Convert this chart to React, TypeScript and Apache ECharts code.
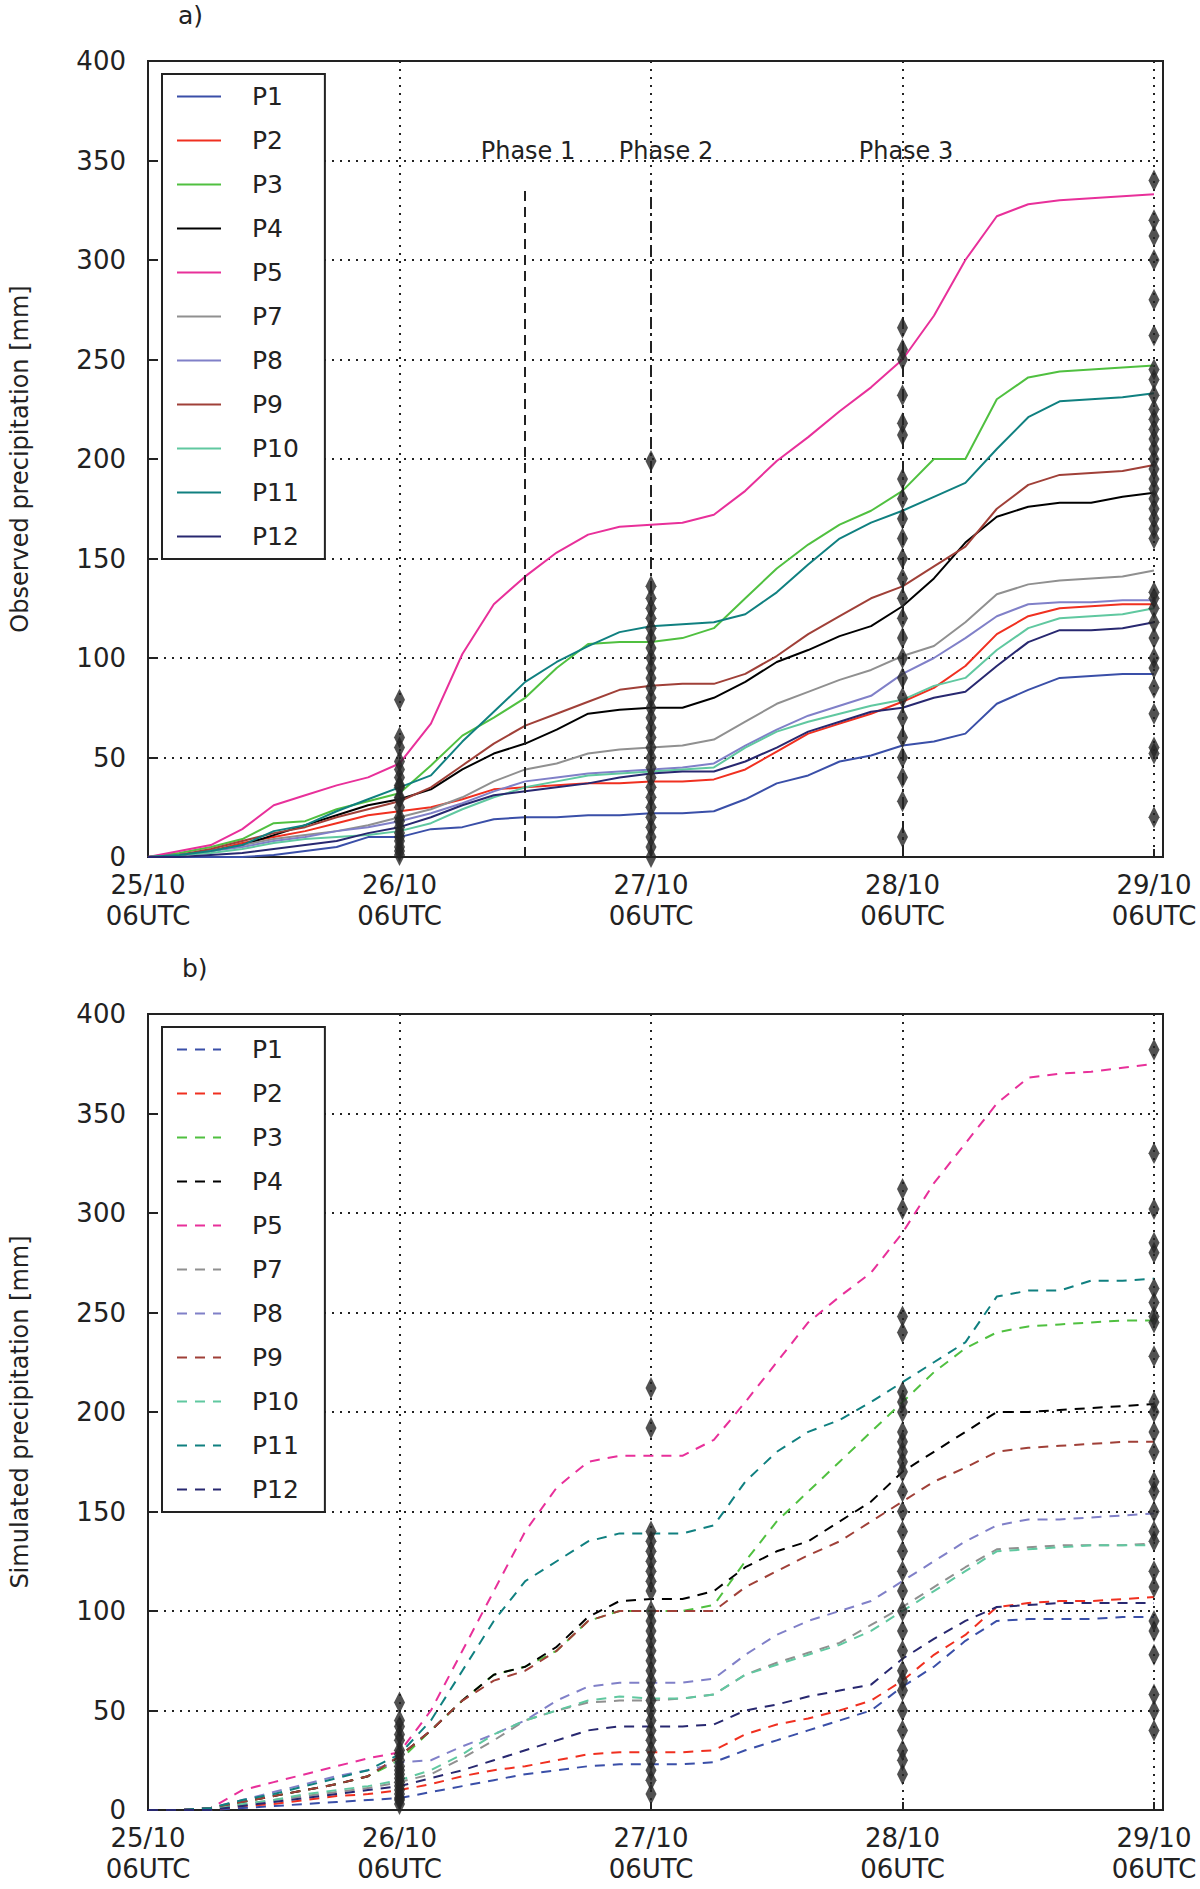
import React, { useEffect, useRef } from "react";
import * as echarts from "echarts";

const hours = Array.from({ length: 33 }, (_, i) => i * 3);
const names = ["P1", "P2", "P3", "P4", "P5", "P7", "P8", "P9", "P10", "P11", "P12"];
const colors = ["#3a4fa8", "#f03020", "#50c040", "#000000", "#e8309a", "#909090", "#8080c8", "#a04038", "#60c8a0", "#108080", "#282870"];

const obsP1 = [0,0,0,0,1,3,5,10,10,14,15,19,20,20,21,21,22,22,23,29,37,41,48,51,56,58,62,77,84,90,91,92,92];
const obsP2 = [0,1,3,7,10,13,17,21,23,25,29,34,35,36,37,37,38,38,39,44,53,62,67,72,78,85,96,112,121,125,126,127,127];
const obsP3 = [0,2,5,9,17,18,24,28,32,46,61,70,80,95,107,108,108,110,115,130,145,157,167,174,184,200,200,230,241,244,245,246,247];
const obsP4 = [0,1,3,6,11,16,21,26,29,34,44,52,57,64,72,74,75,75,80,88,98,104,111,116,126,140,158,171,176,178,178,181,183];
const obsP5 = [0,3,6,14,26,31,36,40,47,67,102,127,141,153,162,166,167,168,172,184,199,211,224,236,250,272,300,322,328,330,331,332,333];
const obsP7 = [0,1,3,6,9,11,13,16,20,24,30,38,44,47,52,54,55,56,59,68,77,83,89,94,101,106,118,132,137,139,140,141,144];
const obsP8 = [0,1,3,5,8,10,13,15,18,22,27,33,38,40,42,43,44,45,47,56,64,71,76,81,92,100,110,121,127,128,128,129,129];
const obsP9 = [0,1,4,8,12,15,20,24,28,35,46,57,66,72,78,84,86,87,87,92,101,112,121,130,136,146,156,175,187,192,193,194,197];
const obsP10 = [0,1,2,4,7,9,10,11,13,17,24,30,35,38,41,42,43,44,45,55,63,68,72,76,79,86,90,104,115,120,121,122,125];
const obsP11 = [0,1,3,6,13,16,23,29,35,41,58,73,88,98,106,113,116,117,118,122,133,147,160,168,174,181,188,205,221,229,230,231,233];
const obsP12 = [0,0,1,2,4,6,8,12,15,20,26,31,33,35,37,40,42,43,43,48,55,63,68,73,75,80,83,96,108,114,114,115,118];

const simP1 = [0,0,0,1,2,3,4,5,6,9,12,15,18,20,22,23,23,23,24,30,35,40,45,50,62,72,85,95,96,96,96,97,97];
const simP2 = [0,0,0,2,3,5,7,8,10,13,17,20,22,25,28,29,29,29,30,38,43,46,50,55,65,78,88,102,104,105,105,106,107];
const simP3 = [0,0,1,4,7,10,13,17,25,40,55,68,72,80,95,100,100,100,103,125,145,160,175,190,205,220,232,240,243,244,245,246,246];
const simP4 = [0,0,1,4,7,10,13,17,27,40,55,68,72,82,97,105,106,106,110,122,130,135,145,155,170,180,190,200,200,201,202,203,204];
const simP5 = [0,0,1,10,14,18,22,26,29,50,80,110,140,162,175,178,178,178,186,205,225,245,258,270,290,315,335,355,368,370,371,373,375];
const simP7 = [0,0,0,3,5,7,9,11,14,18,26,35,45,50,54,55,55,56,58,68,74,79,84,93,102,112,122,131,132,133,133,133,134];
const simP8 = [0,0,1,5,9,13,17,20,24,25,32,38,45,55,62,64,64,64,66,78,88,95,100,105,115,125,135,143,146,146,147,148,149];
const simP9 = [0,0,1,4,7,10,13,17,27,40,55,65,70,80,95,100,100,100,100,112,120,128,135,145,155,165,172,180,182,183,184,185,185];
const simP10 = [0,0,0,3,5,8,10,12,15,20,28,38,45,50,55,57,56,56,58,68,73,78,83,90,100,110,120,130,131,132,133,133,133];
const simP11 = [0,0,1,5,8,12,16,20,28,45,70,95,115,125,135,139,139,139,143,165,180,190,196,205,215,225,235,258,261,261,266,266,267];
const simP12 = [0,0,0,2,4,6,8,10,12,16,20,25,30,35,40,42,42,42,43,50,53,57,60,63,76,86,95,102,103,104,104,104,104];

const obsSeries = [obsP1, obsP2, obsP3, obsP4, obsP5, obsP7, obsP8, obsP9, obsP10, obsP11, obsP12];
const simSeries = [simP1, simP2, simP3, simP4, simP5, simP7, simP8, simP9, simP10, simP11, simP12];

const obsDots24 = [79,60,55,48,44,40,36,35,30,29,25,20,18,15,12,10,8,5,3,1];
const obsDots48 = [199,136,130,125,120,115,110,105,100,95,90,85,80,75,70,65,60,55,50,45,40,35,30,25,20,15,10,5,0];
const obsDots72 = [266,255,250,232,218,212,190,180,170,160,150,140,130,120,110,100,90,80,70,60,50,40,28,10];
const obsDots96 = [340,320,312,300,280,262,245,240,232,225,220,215,210,205,200,195,190,185,180,175,170,165,160,133,130,125,118,110,100,95,85,72,55,52,20];
const simDots24 = [54,45,42,38,35,30,28,25,22,20,18,16,14,12,10,8,6,5,3];
const simDots48 = [212,192,140,135,130,125,120,115,110,100,95,90,85,80,75,70,65,60,55,50,45,40,35,30,25,20,15,8];
const simDots72 = [312,302,248,240,210,205,200,190,185,180,175,170,160,150,140,130,120,110,100,90,80,70,65,60,50,40,30,25,18];
const simDots96 = [382,330,302,285,280,262,255,248,245,228,205,200,190,180,165,160,150,140,135,120,112,95,90,78,58,50,40];

const tickLabels: Record<number, string> = { 0: "25/10\n06UTC", 24: "26/10\n06UTC", 48: "27/10\n06UTC", 72: "28/10\n06UTC", 96: "29/10\n06UTC" };
const phaseLabels = ["Phase 1", "Phase 2", "Phase 3"];

const FONT = "DejaVu Sans";

function buildOption(sim: boolean, gridTop: number, label: string, yName: string) {
  const data = sim ? simSeries : obsSeries;
  const dots = sim ? [simDots24, simDots48, simDots72, simDots96] : [obsDots24, obsDots48, obsDots72, obsDots96];
  const dotData: number[][] = [];
  [24, 48, 72, 96].forEach((h, k) => dots[k].forEach((v) => dotData.push([h, v])));
  const series: any[] = names.map((n, i) => ({
    name: n,
    type: "line",
    data: hours.map((h, j) => [h, data[i][j]]),
    showSymbol: false,
    symbol: "none",
    lineStyle: { color: colors[i], width: 2, type: sim ? [10, 8] : "solid" },
    itemStyle: { color: colors[i] },
    z: 3,
  }));
  series.push({
    name: "stations",
    type: "scatter",
    data: dotData,
    symbol: "diamond",
    symbolSize: [11, 22],
    itemStyle: { color: "#262626" },
    z: 5,
  });
  if (!sim) {
    series.push({
      name: "phases",
      type: "line",
      data: [],
      markLine: {
        symbol: "none",
        silent: true,
        label: { show: false },
        data: [
          [{ coord: [36, 0], lineStyle: { type: [10, 6], color: "#222", width: 2 } }, { coord: [36, 336] }],
          [{ coord: [48, 0], lineStyle: { type: [12, 5, 2, 5], color: "#222", width: 2 } }, { coord: [48, 340] }],
          [{ coord: [72, 0], lineStyle: { type: [12, 5, 2, 5], color: "#222", width: 2 } }, { coord: [72, 340] }],
        ],
      },
    });
  }
  const graphic: any[] = [
    { type: "text", left: sim ? 182 : 178, top: gridTop - 58, style: { text: label, font: `25px '${FONT}'`, fill: "#222" } },
  ];
  if (!sim) {
    [528, 666, 906].forEach((x, i) =>
      graphic.push({ type: "text", x, y: 151, style: { text: phaseLabels[i], font: `24px '${FONT}'`, fill: "#222", align: "center", verticalAlign: "middle" } })
    );
  }
  return {
    animation: false,
    textStyle: { fontFamily: FONT },
    grid: { left: 148, top: gridTop, width: 1015, height: 796, containLabel: false, outerBoundsMode: "none", show: true, borderColor: "#222", borderWidth: 2, backgroundColor: "transparent" },
    legend: {
      data: names,
      orient: "vertical",
      left: 162,
      top: gridTop + 13,
      itemWidth: 44,
      itemHeight: 10,
      itemGap: 19,
      padding: [10, 26, 10, 14],
      borderColor: "#222",
      borderWidth: 2,
      backgroundColor: "#fff",
      itemStyle: { opacity: 0 },
      textStyle: { fontSize: 25, color: "#222", fontFamily: FONT, padding: [0, 0, 0, 26] },
      selectedMode: false,
    },
    xAxis: {
      type: "value",
      min: 0,
      max: 96.86,
      interval: 24,
      axisLine: { show: true, lineStyle: { color: "#222", width: 2 } },
      axisTick: { show: true, inside: true, length: 8, lineStyle: { color: "#222", width: 2 } },
      axisLabel: { showMaxLabel: false, fontSize: 26, color: "#222", fontFamily: FONT, margin: 12, lineHeight: 31, formatter: (v: number) => tickLabels[v] ?? "" },
      splitLine: { show: true, lineStyle: { type: [2, 6], color: "#222", width: 2 } },
    },
    yAxis: {
      type: "value",
      min: 0,
      max: 400,
      interval: 50,
      name: yName,
      nameLocation: "middle",
      nameGap: 116,
      nameTextStyle: { fontSize: 24, color: "#222", fontFamily: FONT },
      axisLine: { show: true, lineStyle: { color: "#222", width: 2 } },
      axisTick: { show: true, inside: true, length: 8, lineStyle: { color: "#222", width: 2 } },
      axisLabel: { fontSize: 26, color: "#222", fontFamily: FONT, margin: 22 },
      splitLine: { show: true, lineStyle: { type: [2, 6], color: "#222", width: 2 } },
    },
    series,
    graphic,
  };
}

function Panel({ sim, top, height, gridTop, label, yName }: any) {
  const ref = useRef<HTMLDivElement>(null);
  useEffect(() => {
    const chart = echarts.init(ref.current!, undefined, { renderer: "svg" });
    chart.setOption(buildOption(sim, gridTop, label, yName) as any);
    return () => chart.dispose();
  }, []);
  return <div ref={ref} style={{ position: "absolute", left: 0, top, width: 1200, height }} />;
}

export default function App() {
  return (
    <div style={{ position: "absolute", left: 0, top: 0, width: 1200, height: 1889, background: "#fff" }}>
      <Panel sim={false} top={0} height={945} gridTop={61} label="a)" yName="Observed precipitation [mm]" />
      <Panel sim={true} top={945} height={944} gridTop={69} label="b)" yName="Simulated precipitation [mm]" />
    </div>
  );
}
